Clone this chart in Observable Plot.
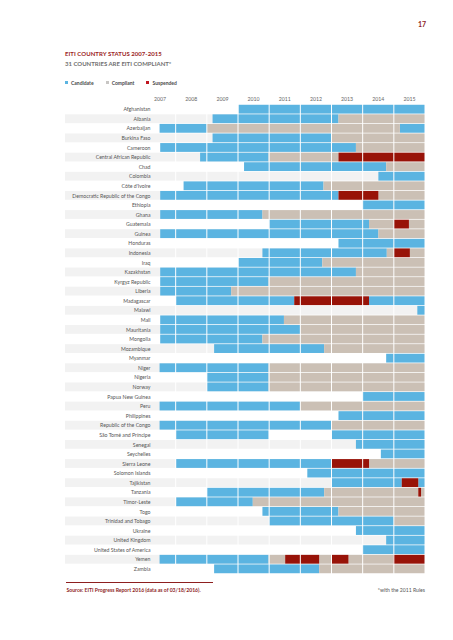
<!DOCTYPE html>
<html><head><meta charset="utf-8">
<script src="https://cdn.jsdelivr.net/npm/d3@7"></script>
<script src="https://cdn.jsdelivr.net/npm/@observablehq/plot@0.6"></script>
<style>
body{margin:0;background:#fff;font-family:Lato,"DejaVu Sans",sans-serif;}
#page{position:relative;width:453px;height:640px;overflow:hidden;background:#fff}
.abs{position:absolute;white-space:nowrap;line-height:1}
.sw{display:inline-block;width:3px;height:3px;margin-right:3px;vertical-align:middle;position:relative;top:-0.5px}
.lg{margin-right:12px}
</style></head><body><div id="page">
<div class="abs" style="left:418px;top:21px;font-size:7px;font-weight:700;color:#8e1f1f">17</div>
<div class="abs" style="left:65px;top:51px;font-size:6px;font-weight:700;color:#9b2424;letter-spacing:0.05px">EITI COUNTRY STATUS 2007-2015</div>
<div class="abs" style="left:65px;top:60.5px;font-size:6px;font-weight:700;color:#707070">31 COUNTRIES ARE EITI COMPLIANT*</div>
<div class="abs" id="legend" style="left:65px;top:80.5px;font-size:5px;font-weight:700;color:#4a4a4a"></div>
<div class="abs" id="chart" style="left:0;top:88px"></div>
<div class="abs" style="left:66px;top:582px;width:147px;height:0;border-top:0.8px solid #8e1f1f"></div>
<div class="abs" style="left:66.5px;top:587.5px;font-size:5.1px;font-weight:700;color:#8e1f1f">Source: EITI Progress Report 2016 (data as of 03/18/2016).</div>
<div class="abs" style="right:28px;top:587.5px;font-size:5.1px;color:#555">*with the 2011 Rules</div>
</div>
<script>
const countries = ["Afghanistan","Albania","Azerbaijan","Burkina Faso","Cameroon","Central African Republic","Chad","Colombia","Côte d'Ivoire","Democratic Republic of the Congo","Ethiopia","Ghana","Guatemala","Guinea","Honduras","Indonesia","Iraq","Kazakhstan","Kyrgyz Republic","Liberia","Madagascar","Malawi","Mali","Mauritania","Mongolia","Mozambique","Myanmar","Niger","Nigeria","Norway","Papua New Guinea","Peru","Philippines","Republic of the Congo","São Tomé and Príncipe","Senegal","Seychelles","Sierra Leone","Solomon Islands","Tajikistan","Tanzania","Timor-Leste","Togo","Trinidad and Tobago","Ukraine","United Kingdom","United States of America","Yemen","Zambia"];

const years = [2007,2008,2009,2010,2011,2012,2013,2014,2015];

const statuses = ["Candidate","Compliant","Suspended"];

// [country, start (fractional year), end]
const candidatePeriods = [
 ["Afghanistan",2010.03,2016],["Albania",2009.2,2013.24],["Azerbaijan",2007.5,2009.02],["Azerbaijan",2015.21,2016],
 ["Burkina Faso",2009.2,2013.02],["Cameroon",2007.52,2013.8],["Central African Republic",2008.8,2011.0],
 ["Chad",2010.21,2014.77],["Colombia",2014.52,2016],["Côte d'Ivoire",2008.27,2012.76],
 ["Democratic Republic of the Congo",2007.52,2013.24],["Ethiopia",2014.01,2016],["Ghana",2007.52,2010.8],
 ["Guatemala",2011.01,2014.22],["Guinea",2007.52,2014.52],["Honduras",2013.24,2016],["Indonesia",2010.8,2014.79],
 ["Iraq",2010.03,2012.72],["Kazakhstan",2007.52,2013.8],["Kyrgyz Republic",2007.52,2011.0],["Liberia",2007.52,2009.8],
 ["Madagascar",2008.03,2011.82],["Madagascar",2014.22,2016],["Malawi",2015.77,2016],["Mali",2007.52,2011.49],
 ["Mauritania",2007.52,2012.01],["Mongolia",2007.52,2010.8],["Mozambique",2009.25,2012.78],["Myanmar",2014.77,2016],
 ["Niger",2007.5,2011.0],["Nigeria",2009.02,2011.0],["Norway",2009.02,2011.0],["Papua New Guinea",2014.01,2016],
 ["Peru",2007.5,2012.01],["Philippines",2013.24,2016],["Republic of the Congo",2007.5,2013.02],
 ["São Tomé and Príncipe",2008.03,2011.0],["São Tomé and Príncipe",2013.02,2016],["Senegal",2013.8,2016],
 ["Seychelles",2014.6,2016],["Sierra Leone",2008.03,2013.0],["Solomon Islands",2012.24,2016],
 ["Tajikistan",2013.02,2015.27],["Tajikistan",2015.8,2016],["Tanzania",2009.02,2012.78],["Timor-Leste",2008.03,2010.49],
 ["Togo",2010.8,2013.24],["Trinidad and Tobago",2011.01,2015.02],["Ukraine",2013.8,2016],["United Kingdom",2014.77,2016],
 ["United States of America",2014.01,2016],["Yemen",2007.5,2011.0],["Zambia",2009.25,2012.62]
];

const compliantPeriods = [
 ["Albania",2013.24,2016],["Azerbaijan",2009.02,2015.21],["Burkina Faso",2013.02,2016],["Cameroon",2013.8,2016],
 ["Central African Republic",2011.0,2013.24],["Chad",2014.77,2016],["Côte d'Ivoire",2012.76,2016],
 ["Democratic Republic of the Congo",2014.52,2016],["Ghana",2010.8,2016],["Guatemala",2014.22,2015.02],
 ["Guatemala",2015.5,2016],["Guinea",2014.52,2016],["Indonesia",2014.79,2015.02],["Indonesia",2015.53,2016],
 ["Iraq",2012.72,2016],["Kazakhstan",2013.8,2016],["Kyrgyz Republic",2011.0,2016],["Liberia",2009.8,2016],
 ["Mali",2011.49,2016],["Mauritania",2012.01,2016],["Mongolia",2010.8,2016],["Mozambique",2012.78,2016],
 ["Niger",2011.0,2016],["Nigeria",2011.0,2016],["Norway",2011.0,2016],["Peru",2012.01,2016],
 ["Republic of the Congo",2013.02,2016],["Sierra Leone",2014.22,2016],["Tanzania",2012.78,2015.8],
 ["Tanzania",2015.89,2016],["Timor-Leste",2010.49,2016],["Togo",2013.24,2016],["Trinidad and Tobago",2015.02,2016],
 ["Yemen",2011.0,2011.53],["Yemen",2012.62,2013.0],["Yemen",2013.56,2015.0],["Zambia",2012.62,2016]
];

const suspendedPeriods = [
 ["Central African Republic",2013.24,2016],["Democratic Republic of the Congo",2013.24,2014.52],
 ["Guatemala",2015.02,2015.5],["Indonesia",2015.02,2015.53],["Madagascar",2011.82,2014.22],
 ["Sierra Leone",2013.0,2014.22],["Tajikistan",2015.27,2015.8],["Tanzania",2015.8,2015.89],
 ["Yemen",2011.53,2012.62],["Yemen",2013.0,2013.56],["Yemen",2015.0,2016]
];

const barColors = ["#5bb4e1","#cbc0b5","#981308"];
const legendColors = ["#5bb4e1","#c8c6c4","#c0151f"];

const segs = [
  ...candidatePeriods.map(([c,a,b]) => ({c,a,b,s:"Candidate"})),
  ...compliantPeriods.map(([c,a,b]) => ({c,a,b,s:"Compliant"})),
  ...suspendedPeriods.map(([c,a,b]) => ({c,a,b,s:"Suspended"}))
];

const striped = countries.filter((d,i) => i % 2 === 1);
const gridYears = years.slice(1);

const chart = Plot.plot({
  width: 453, height: 492,
  marginLeft: 144, marginRight: 28.5, marginTop: 16, marginBottom: 6,
  style: {fontFamily: "Lato, 'DejaVu Sans', sans-serif", fontSize: "5.2px", background: "transparent"},
  x: {domain: [years[0], years[years.length-1] + 1], range: [144, 424.5], axis: null},
  y: {domain: countries, range: [16, 486], padding: 0.08, round: false, axis: null},
  color: {domain: statuses, range: barColors},
  marks: [
    Plot.barX(striped, {y: d => d, x1: () => years[0], x2: () => years[years.length-1] + 1, fill: "#f2f2f2", insetLeft: -79}),
    Plot.barX(segs, {y: "c", x1: "a", x2: "b", fill: "s"}),
    Plot.ruleX(gridYears, {x: d => d, y1: () => countries[0], y2: () => countries[countries.length-1], stroke: "#fff", strokeWidth: 1, insetTop: -5, insetBottom: -5}),
    Plot.axisX({anchor: "top", ticks: years.map(y => y + 0.5), tickFormat: d => String(Math.round(d - 0.5)), tickSize: 0, tickPadding: 4, fill: "#666", fontSize: 5.2, label: null}),
    Plot.axisY({anchor: "left", tickSize: 0, tickPadding: 0, dx: 6, fill: "#555", fontSize: 5.2, label: null})
  ]
});
document.getElementById("chart").appendChild(chart);

const lg = document.getElementById("legend");
statuses.forEach((s,i) => {
  const span = document.createElement("span");
  span.className = "lg";
  span.innerHTML = `<span class="sw" style="background:${legendColors[i]}"></span>${s}`;
  lg.appendChild(span);
});
</script>
</body></html>
